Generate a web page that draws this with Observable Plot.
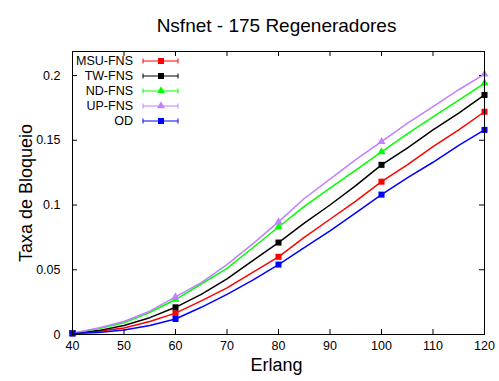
<!DOCTYPE html>
<html><head><meta charset="utf-8">
<script src="https://cdn.jsdelivr.net/npm/d3@7"></script>
<script src="https://cdn.jsdelivr.net/npm/@observablehq/plot@0.6"></script>
<style>body{margin:0;background:#fff;} svg{display:block;font-family:"Liberation Sans",Arial,sans-serif;}</style>
</head><body><div id="chart"></div>
<script>
const title = "Nsfnet - 175 Regeneradores";
const xLabel = "Erlang";
const yLabel = "Taxa de Bloqueio";
const erlang = [40,45,50,55,60,65,70,75,80,85,90,95,100,105,110,115,120];
const markerErlang = [40,60,80,100,120];
const seriesNames = ["MSU-FNS","TW-FNS","ND-FNS","UP-FNS","OD"];
const seriesColors = ["#ff0000","#000000","#00ff00","#c080ff","#0000ff"];
const seriesSymbols = ["square","square","triangle","triangle","square"];
const msu = [0.001,0.0025,0.005,0.010,0.0165,0.026,0.036,0.048,0.060,0.075,0.089,0.103,0.118,0.131,0.145,0.158,0.172];
const tw  = [0.001,0.003,0.007,0.013,0.021,0.031,0.043,0.057,0.071,0.086,0.100,0.115,0.131,0.144,0.158,0.171,0.185];
const nd  = [0.001,0.0045,0.009,0.017,0.027,0.039,0.051,0.067,0.083,0.099,0.113,0.127,0.141,0.155,0.168,0.181,0.194];
const up  = [0.001,0.005,0.010,0.018,0.029,0.040,0.054,0.070,0.087,0.105,0.120,0.135,0.149,0.163,0.176,0.189,0.201];
const od  = [0.0008,0.0015,0.0035,0.007,0.012,0.021,0.031,0.042,0.054,0.067,0.080,0.094,0.108,0.121,0.133,0.146,0.158];
const xTicks = [40,50,60,70,80,90,100,110,120];
const yTicks = [0,0.05,0.1,0.15,0.2];
const yTickLabels = ["0","0.05","0.1","0.15","0.2"];

const allValues = [msu,tw,nd,up,od];
const rows = [];
seriesNames.forEach((name,i)=>{
  erlang.forEach((e,j)=>rows.push({series:name, erlang:e, value:allValues[i][j], idx:i}));
});
const markRows = rows.filter(d=>markerErlang.includes(d.erlang));

const W=499,H=381, mL=72, mR=15, mT=51, mB=47;
const fw = W-mL-mR, fh = H-mT-mB;
const font = "Liberation Sans, Arial, sans-serif";
const symR = s => s==="square" ? 3.4 : 3.0;

const marks = [];
seriesNames.forEach((name,i)=>{
  const data = rows.filter(d=>d.series===name);
  marks.push(Plot.line(data,{x:"erlang",y:"value",stroke:seriesColors[i],strokeWidth:1.5}));
  const md = markRows.filter(d=>d.series===name);
  marks.push(Plot.dot(md,{x:"erlang",y:"value",fill:seriesColors[i],symbol:seriesSymbols[i],r:symR(seriesSymbols[i]),stroke:"none"}));
});

const plot = Plot.plot({
  width:W, height:H,
  marginLeft:mL, marginRight:mR, marginTop:mT, marginBottom:mB,
  style:{background:"#fff", fontFamily:font},
  x:{domain:[40,120], axis:null},
  y:{domain:[0,(fh)/1295], axis:null},
  marks:[
    Plot.ruleX(xTicks,{x:d=>d, insetTop:fh-5, stroke:"#000"}),
    Plot.ruleX(xTicks,{x:d=>d, insetBottom:fh-5, stroke:"#000"}),
    Plot.ruleY(yTicks,{y:d=>d, insetRight:fw-5, stroke:"#000"}),
    Plot.ruleY(yTicks,{y:d=>d, insetLeft:fw-5, stroke:"#000"}),
    ...marks,
    Plot.frame({stroke:"#000", strokeWidth:1}),
    Plot.text(xTicks,{x:d=>d, frameAnchor:"bottom", dy:15, text:d=>String(d), fontSize:12.5, fill:"#000"}),
    Plot.text(yTicks,{y:d=>d, frameAnchor:"left", dx:-12, textAnchor:"end", text:(d,i)=>yTickLabels[i], fontSize:12.5, fill:"#000"}),
    Plot.text([xLabel],{frameAnchor:"bottom", dy:36, dx:-2, fontSize:18, fill:"#000"}),
    Plot.text([yLabel],{frameAnchor:"left", dx:-46, rotate:-90, textAnchor:"middle", lineAnchor:"middle", fontSize:18, fill:"#000"}),
    Plot.text([title],{frameAnchor:"top", dy:-33, dx:-2, fontSize:19, fill:"#000"})
  ]
});
document.getElementById("chart").appendChild(plot);

const svg = d3.select(plot);
const g = svg.append("g").attr("class","legend");
const legY0 = 61, legStep = 15, textRight = 133, lx1 = 143, lx2 = 178, lmx = 161;
seriesNames.forEach((name,i)=>{
  const y = legY0 + i*legStep;
  g.append("text").attr("x",textRight).attr("y",y).attr("dy","0.35em")
    .attr("text-anchor","end").attr("font-size",12.5).attr("font-family",font).attr("fill","#000").text(name);
  g.append("line").attr("x1",lx1).attr("x2",lx2).attr("y1",y).attr("y2",y).attr("stroke",seriesColors[i]).attr("stroke-width",1);
  [lx1,lx2].forEach(x=>g.append("line").attr("x1",x).attr("x2",x).attr("y1",y-2.5).attr("y2",y+2.5).attr("stroke",seriesColors[i]).attr("stroke-width",1));
  const sym = seriesSymbols[i]==="square" ? d3.symbolSquare : d3.symbolTriangle;
  const r = symR(seriesSymbols[i]);
  g.append("path").attr("d",d3.symbol(sym,Math.PI*r*r)()).attr("transform",`translate(${lmx},${y})`).attr("fill",seriesColors[i]);
});
</script>
</body></html>
